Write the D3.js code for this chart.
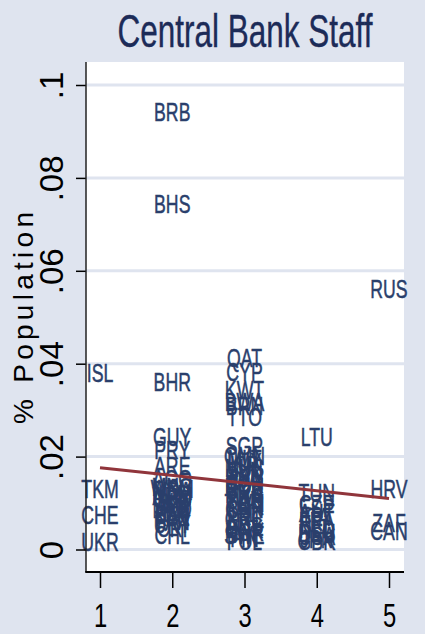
<!DOCTYPE html>
<html>
<head>
<meta charset="utf-8">
<script src="https://cdn.jsdelivr.net/npm/d3@7"></script>
<style>
body { margin: 0; background: #dfe4ef; }
svg { display: block; font-family: "Liberation Sans", Arial, sans-serif; }
</style>
</head>
<body>
<svg id="chart"></svg>
<script>
// country labels, size group (x) and staff as % of population (y)
const countryCodes = [
    'ISL','TKM','CHE','UKR',
    'BRB','BHS','BHR','GUY','PRY','ARE','AGO','MNG','WSM','MDA','NAM','ARM','GEO','BIH','ALB','JAM','MKD','LBN','BLR','KAZ','PAN','URY','CRI','CHL',
    'QAT','CYP','KWT','BWA','BRN','TTO','SGP','OMN','MLT','LUX','ISR','MUS','SVN','SVK','HUN','LVA','BGR','ROU','SRB','MYS','THA','SAU','TWN','KOR','CHN','IRL','PRT','GRC','NZL','AUS','DNK','NOR','SWE','FIN','POL',
    'LTU','TUN','CZE','ESP','AUT','ITA','FRA','BEL','NLD','DEU','USA','JPN','GBR',
    'RUS','HRV','ZAF','CAN'
];
const sizeGroup = [
    1,1,1,1,
    2,2,2,2,2,2,2,2,2,2,2,2,2,2,2,2,2,2,2,2,2,2,2,2,
    3,3,3,3,3,3,3,3,3,3,3,3,3,3,3,3,3,3,3,3,3,3,3,3,3,3,3,3,3,3,3,3,3,3,3,
    4,4,4,4,4,4,4,4,4,4,4,4,4,
    5,5,5,5
];
const staffShare = [
    .0380,.0132,.0076,.0018,
    .0942,.0744,.0361,.0243,.0215,.0180,.0152,.0136,.0131,.0126,.0120,.0115,.0110,.0104,.0099,.0093,.0088,.0082,.0076,.0070,.0063,.0055,.0048,.0031,
    .0412,.0382,.0345,.0318,.0309,.0287,.0223,.0203,.0196,.0189,.0182,.0176,.0169,.0162,.0155,.0148,.0141,.0135,.0128,.0121,.0114,.0107,.0100,.0094,.0087,.0080,.0073,.0066,.0059,.0052,.0045,.0038,.0031,.0025,.0020,
    .0244,.0122,.0099,.0090,.0080,.0071,.0062,.0053,.0045,.0037,.0030,.0024,.0019,
    .0561,.0130,.0057,.0040
];
const xTicks = [1, 2, 3, 4, 5];
const yTicks = [0, 0.02, 0.04, 0.06, 0.08, 0.1];
const yTickLabels = ['0', '.02', '.04', '.06', '.08', '.1'];
// fitted line end points
const fitX = [1, 5];
const fitY = [0.0176, 0.0110];

class LabelScatter {
constructor(config, data) {
    this.config = {
        parent: config.parent,
        width: config.width || 425,
        height: config.height || 634,
        plot: config.plot || {left: 86, right: 404, top: 62, bottom: 572},
        title: config.title || '',
        ylabel: config.ylabel || '',
    }
    this.data = data;
    this.init();
}

init() {
    let self = this;
    const p = self.config.plot;
    self.svg = d3.select(self.config.parent)
        .attr('width', self.config.width)
        .attr('height', self.config.height);
    self.svg.append('rect')
        .attr('width', self.config.width)
        .attr('height', self.config.height)
        .attr('fill', '#dfe4ef');
    self.svg.append('rect')
        .attr('x', p.left).attr('y', p.top)
        .attr('width', p.right - p.left)
        .attr('height', p.bottom - p.top)
        .attr('fill', '#ffffff');

    self.xscale = d3.scaleLinear().domain([1, 5]).range([100, 389]);
    self.yscale = d3.scaleLinear().domain([0, 0.1]).range([549.5, 85]);

    // grid
    self.svg.append('g').selectAll('line')
        .data(yTicks)
        .join('line')
        .attr('x1', p.left).attr('x2', p.right)
        .attr('y1', d => self.yscale(d)).attr('y2', d => self.yscale(d))
        .attr('stroke', '#dfe4ef')
        .attr('stroke-width', 3);

    self.chart = self.svg.append('g');
    self.xaxis_group = self.svg.append('g')
        .attr('transform', `translate(0, ${p.bottom})`);
    self.yaxis_group = self.svg.append('g')
        .attr('transform', `translate(${p.left}, 0)`);

    // axis lines
    self.svg.append('line')
        .attr('x1', p.left).attr('x2', p.left)
        .attr('y1', p.top).attr('y2', p.bottom)
        .attr('stroke', '#222').attr('stroke-width', 1.5);
    self.svg.append('line')
        .attr('x1', p.left - 0.75).attr('x2', p.right)
        .attr('y1', p.bottom).attr('y2', p.bottom)
        .attr('stroke', '#000').attr('stroke-width', 2);

    self.svg.append('text')
        .attr('transform', 'translate(245, 47) scale(0.67, 1)')
        .attr('text-anchor', 'middle')
        .style('font-size', '47px')
        .attr('fill', '#1c2b58')
        .attr('stroke', '#1c2b58').attr('stroke-width', 0.4)
        .text(self.config.title);

    self.svg.append('text')
        .attr('transform', 'translate(33, 318) rotate(-90)')
        .attr('text-anchor', 'middle')
        .attr('textLength', 212)
        .attr('lengthAdjust', 'spacing')
        .style('font-size', '28px')
        .attr('fill', '#000')
        .text(self.config.ylabel);
}

update() {
    let self = this;
    self.chart.selectAll('text.mlab')
        .data(self.data)
        .join('text')
        .attr('class', 'mlab')
        .attr('transform', d => `translate(${self.xscale(d.group)}, ${self.yscale(d.value)}) scale(0.68, 1)`)
        .attr('text-anchor', 'middle')
        .attr('dy', '0.36em')
        .style('font-size', '26px')
        .attr('fill', '#2a3f6c')
        .attr('stroke', '#2a3f6c').attr('stroke-width', 0.5)
        .text(d => d.code);

    const fit = fitX.map((x, i) => ({x: x, y: fitY[i]}));
    self.chart.append('path')
        .datum(fit)
        .attr('d', d3.line().x(d => self.xscale(d.x)).y(d => self.yscale(d.y)))
        .attr('fill', 'none')
        .attr('stroke', '#90353b')
        .attr('stroke-width', 3);

    self.render();
}

render() {
    let self = this;
    self.xaxis_group
        .call(d3.axisBottom(self.xscale).tickValues(xTicks).tickFormat(d3.format('d')).tickSize(16).tickSizeOuter(0));
    self.xaxis_group.select('.domain').remove();
    self.xaxis_group.selectAll('.tick line').attr('stroke', '#000').attr('stroke-width', 1.5);
    self.xaxis_group.selectAll('.tick text')
        .attr('y', 55).attr('dy', null)
        .attr('transform', 'scale(0.72, 1)')
        .attr('fill', '#000')
        .style('font-size', '33px')
        .style('font-family', '"Liberation Sans", Arial, sans-serif');

    self.yaxis_group
        .call(d3.axisLeft(self.yscale).tickValues(yTicks).tickFormat((d, i) => yTickLabels[i]).tickSize(10).tickSizeOuter(0));
    self.yaxis_group.select('.domain').remove();
    self.yaxis_group.selectAll('.tick line').attr('stroke', '#000').attr('stroke-width', 1.5);
    self.yaxis_group.selectAll('.tick text')
        .attr('x', null).attr('dy', null).attr('y', 0)
        .attr('transform', 'translate(-23, 0) rotate(-90)')
        .attr('text-anchor', 'middle')
        .attr('fill', '#000')
        .style('font-size', '33px')
        .style('font-family', '"Liberation Sans", Arial, sans-serif');
}
}

const data = countryCodes.map((c, i) => ({code: c, group: sizeGroup[i], value: staffShare[i]}));
const chart = new LabelScatter({
    parent: '#chart',
    title: 'Central Bank Staff',
    ylabel: '% Population',
}, data);
chart.update();
</script>
</body>
</html>
